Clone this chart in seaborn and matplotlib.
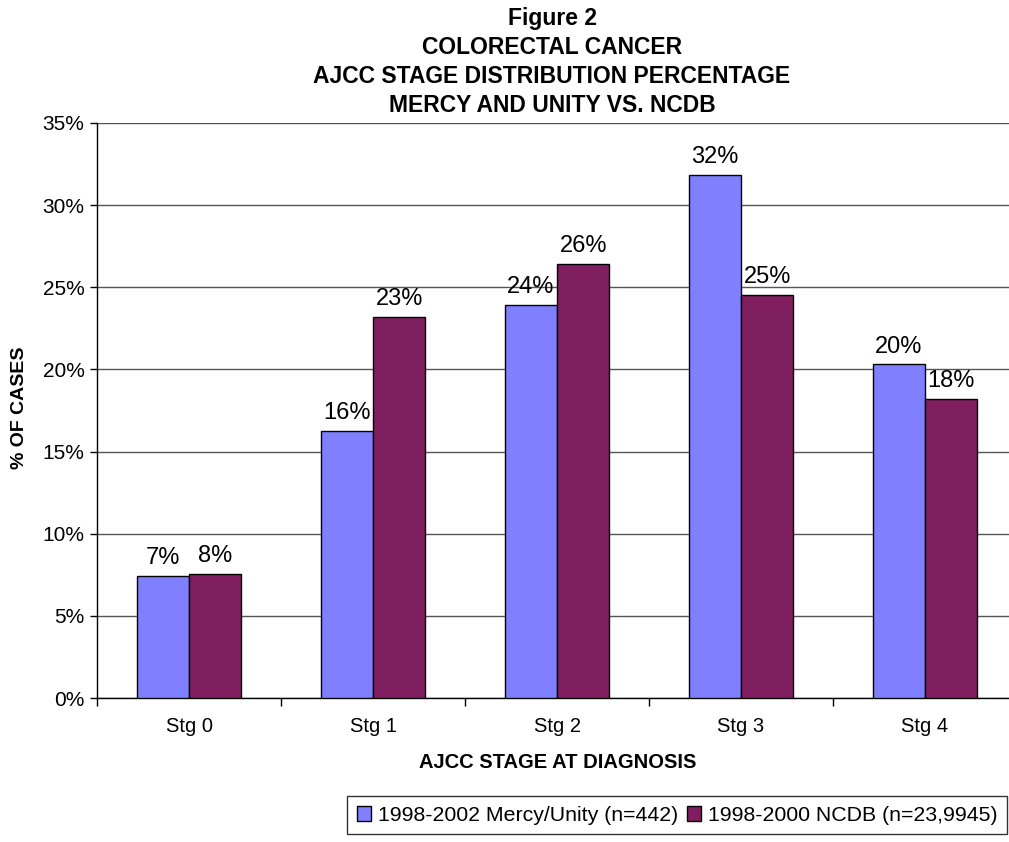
import pandas as pd
import matplotlib.pyplot as plt
import seaborn as sns
from matplotlib.ticker import FixedLocator, FuncFormatter

# ----------------------------------------------------------
# Dati (percentuale di casi per stadio AJCC)
# ----------------------------------------------------------

stages = ["Stg 0", "Stg 1", "Stg 2", "Stg 3", "Stg 4"]
series_names = ["1998-2002 Mercy/Unity (n=442)", "1998-2000 NCDB (n=23,9945)"]
mercy_pct = [7.45, 16.25, 23.9, 31.85, 20.3]
ncdb_pct = [7.53, 23.2, 26.4, 24.55, 18.2]
series_colors = ["#8080FF", "#801F5F"]
y_ticks = [0, 5, 10, 15, 20, 25, 30, 35]

df = pd.DataFrame({
    "stage": stages * 2,
    "pct": mercy_pct + ncdb_pct,
    "series": [series_names[0]] * len(stages) + [series_names[1]] * len(stages),
})

# ----------------------------------------------------------
# Stile
# ----------------------------------------------------------

sns.set_style("white")
plt.rcParams["font.family"] = ["Liberation Sans", "DejaVu Sans"]
plt.rcParams["text.color"] = "black"
plt.rcParams["xtick.color"] = "black"
plt.rcParams["ytick.color"] = "black"

fig = plt.figure(figsize=(10.09, 8.42), dpi=100)
ax = fig.add_axes([97 / 1009, 144 / 842, 920 / 1009, 575 / 842])

sns.barplot(data=df, x="stage", y="pct", hue="series", order=stages,
            hue_order=series_names, palette=series_colors, width=0.57,
            edgecolor="black", linewidth=1, saturation=1, ax=ax, zorder=3)

# etichette sopra le barre
for cont in ax.containers:
    ax.bar_label(cont, fmt=lambda v: f"{v:.0f}%", padding=5, fontsize=17)

# assi
ax.set_xlim(-0.5, 4.5)
ax.set_ylim(0, 35)
ax.yaxis.set_major_locator(FixedLocator(y_ticks))
ax.yaxis.set_major_formatter(FuncFormatter(lambda v, p: f"{v:.0f}%"))
ax.grid(axis="y", color="#555555", linewidth=1, zorder=0)
ax.set_axisbelow(True)
for s in ["top", "right"]:
    ax.spines[s].set_visible(False)
for s in ["left", "bottom"]:
    ax.spines[s].set_color("black")
    ax.spines[s].set_linewidth(1)

ax.tick_params(axis="y", which="major", length=5, width=1, color="black",
               left=True, labelsize=15, pad=4)
ax.tick_params(axis="x", which="major", length=0, labelsize=14.5, pad=14)
ax.xaxis.set_minor_locator(FixedLocator([-0.5, 0.5, 1.5, 2.5, 3.5, 4.5]))
ax.tick_params(axis="x", which="minor", length=6, width=1, color="black",
               bottom=True)

ax.set_xlabel("")
ax.set_ylabel("")
fig.text(558 / 1009, 1 - 762 / 842, "AJCC STAGE AT DIAGNOSIS", ha="center",
         va="center", fontsize=14.5, fontweight="bold")
fig.text(20 / 1009, 1 - 408 / 842, "% OF CASES", ha="center", va="center",
         rotation=90, fontsize=14, fontweight="bold")

# titolo su più righe
title_lines = ["Figure 2", "COLORECTAL CANCER",
               "AJCC STAGE DISTRIBUTION PERCENTAGE", "MERCY AND UNITY VS. NCDB"]
for i, line in enumerate(title_lines):
    fig.text(552 / 1009, 1 - (19 + 28.7 * i) / 842, line, ha="center",
             va="center", fontsize=16.5, fontweight="bold")

# legenda
handles, labels = ax.get_legend_handles_labels()
ax.get_legend().remove()
leg = fig.legend(handles, labels, ncol=2, loc="upper center",
                 bbox_to_anchor=(677 / 1009, 1 - 796 / 842), fontsize=15.3,
                 frameon=True, fancybox=False, handlelength=0.7,
                 handleheight=0.7, handletextpad=0.3, columnspacing=0.4,
                 borderpad=0.45, borderaxespad=0)
leg.get_frame().set_edgecolor("black")
leg.get_frame().set_linewidth(1)

plt.savefig("out.png", dpi=100)
